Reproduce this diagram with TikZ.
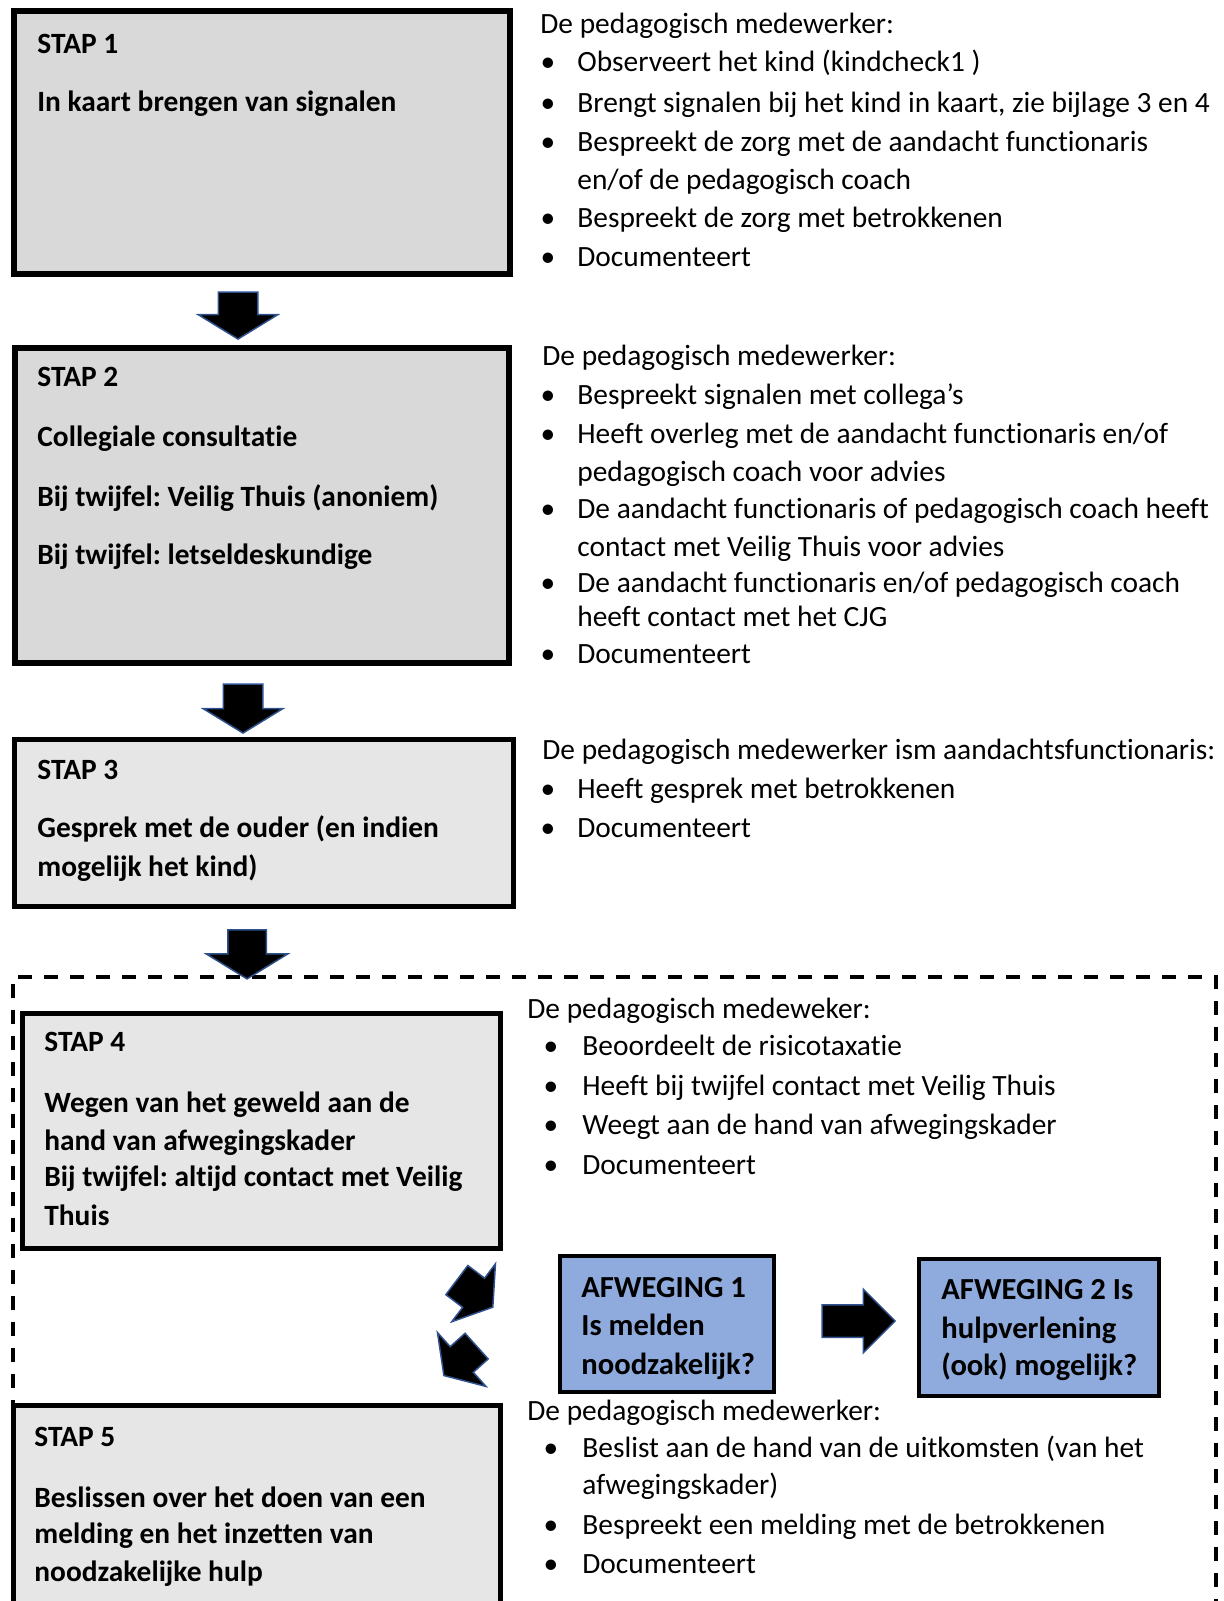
\documentclass[tikz,border=0pt]{standalone}
\usepackage{fontspec}
\setmainfont{Carlito}[Ligatures=NoCommon]
\usetikzlibrary{shapes.arrows}
\definecolor{stapgrey}{HTML}{D9D9D9}
\definecolor{staplight}{HTML}{E7E6E6}
\definecolor{afwblue}{HTML}{8FAADC}
\definecolor{pijlrand}{HTML}{2F528F}
\frenchspacing

\begin{document}
\begin{tikzpicture}[x=0.5pt,y=-0.5pt]
            \tikzstyle{stap box}=[draw,line width=3pt,fill=stapgrey,inner sep=0,outer sep=0];
            \tikzstyle{light box}=[stap box,line width=2.5pt,fill=staplight];
            \tikzstyle{afw box}=[draw,line width=2pt,fill=afwblue,inner sep=0,outer sep=0];
            \tikzstyle{pijl}=[single arrow,draw=pijlrand,fill=black,line width=0.75pt,inner xsep=0,outer sep=0];
            \tikzstyle{kop}=[anchor=mid west,inner sep=0,font=\fontsize{14.7}{17}\selectfont\bfseries];
            \tikzstyle{afw}=[anchor=mid west,inner sep=0,font=\fontsize{15.3}{18}\selectfont\bfseries];
            \tikzstyle{tekst}=[anchor=mid west,inner sep=0,font=\fontsize{14.7}{17}\selectfont];
            \tikzstyle{bol}=[anchor=mid,inner sep=0,font=\fontsize{14.7}{17}\selectfont];
            \useasboundingbox (0,0) rectangle (1223,1601);
            \clip (0,0) rectangle (1223,1601);
            % dashed frame round stap 4 and 5
            \draw[line width=1.75pt,dash pattern=on 7pt off 6pt] (13,1700) |- (1216,977) -- (1216,1700);
            % boxes
            \node[stap box,minimum width=248pt,minimum height=131.5pt] (stap1) at (262,142.5) {};
            \node[stap box,minimum width=247pt,minimum height=157.5pt] (stap2) at (262,505.5) {};
            \node[light box,minimum width=249.5pt,minimum height=83.5pt] (stap3) at (264,823) {};
            \node[light box,minimum width=239pt,minimum height=117.5pt] (stap4) at (261.5,1131) {};
            \node[light box,minimum width=243.5pt,minimum height=127.25pt] (stap5) at (257,1532.75) {};
            \node[afw box,minimum width=107pt,minimum height=68pt] (afw1) at (667,1324) {};
            \node[afw box,minimum width=120pt,minimum height=68.5pt] (afw2) at (1039,1327.5) {};
            % arrows
            \node[pijl,minimum height=23.5pt,minimum width=39pt,inner ysep=9.5pt,single arrow head extend=10pt,single arrow tip angle=117,rotate=-90] (p12) at (238,309.5) {};
            \node[pijl,minimum height=24.5pt,minimum width=39pt,inner ysep=9.5pt,single arrow head extend=10pt,single arrow tip angle=117,rotate=-90] (p23) at (243,702.5) {};
            \node[pijl,minimum height=24.5pt,minimum width=40pt,inner ysep=9.25pt,single arrow head extend=10.75pt,single arrow tip angle=117,rotate=-90] (p34) at (247,948.5) {};
            \node[pijl,minimum height=22.5pt,minimum width=35.5pt,inner ysep=8.75pt,single arrow head extend=9pt,single arrow tip angle=113,rotate=-37] (p4a) at (470,1290) {};
            \node[pijl,minimum height=22pt,minimum width=35.5pt,inner ysep=8.25pt,single arrow head extend=9.5pt,single arrow tip angle=113,rotate=-138] (pa5) at (464.5,1357) {};
            \node[pijl,minimum height=36.5pt,minimum width=31pt,inner ysep=7.75pt,single arrow head extend=7.75pt,single arrow tip angle=90] (pa12) at (850.5,1321) {};
            % texts in the boxes
            \node[kop] (k1a) at (37,49) {STAP 1};
            \node[kop] (k1b) at (37,107) {In kaart brengen van signalen};
            \node[kop] (k2a) at (37,382) {STAP 2};
            \node[kop] (k2b) at (37,442) {Collegiale consultatie};
            \node[kop] (k2c) at (37,502) {Bij twijfel: Veilig Thuis (anoniem)};
            \node[kop] (k2d) at (37,560) {Bij twijfel: letseldeskundige};
            \node[kop] (k3a) at (37,775) {STAP 3};
            \node[kop] (k3b) at (37,833) {Gesprek met de ouder (en indien};
            \node[kop] (k3c) at (37,872) {mogelijk het kind)};
            \node[kop] (k4a) at (44,1047) {STAP 4};
            \node[kop] (k4b) at (44,1108) {Wegen van het geweld aan de};
            \node[kop] (k4c) at (44,1146) {hand van afwegingskader};
            \node[kop] (k4d) at (44,1182) {Bij twijfel: altijd contact met Veilig};
            \node[kop] (k4e) at (44,1221) {Thuis};
            \node[kop] (k5a) at (34,1442) {STAP 5};
            \node[kop] (k5b) at (34,1503) {Beslissen over het doen van een};
            \node[kop] (k5c) at (34,1539) {melding en het inzetten van};
            \node[kop] (k5d) at (34,1577) {noodzakelijke hulp};
            \node[afw] (w1a) at (581,1293) {AFWEGING 1};
            \node[afw] (w1b) at (581,1331) {Is melden};
            \node[afw] (w1c) at (581,1370) {noodzakelijk?};
            \node[afw] (w2a) at (941,1295) {AFWEGING 2 Is};
            \node[afw] (w2b) at (941,1334) {hulpverlening};
            \node[afw] (w2c) at (941,1371) {(ook) mogelijk?};
            % stap 1
            \node[tekst] (m1) at (540,29) {De pedagogisch medewerker:};
            \foreach \y in {67,108,147,223,262} \node[bol] (b1-\y) at (548,\y) {\textbullet};
            \node[tekst] (m1a) at (577,67) {Observeert het kind (kindcheck1 )};
            \node[tekst] (m1b) at (577,108) {Brengt signalen bij het kind in kaart, zie bijlage 3 en 4};
            \node[tekst] (m1c) at (577,147) {Bespreekt de zorg met de aandacht functionaris};
            \node[tekst] (m1d) at (577,185) {en/of de pedagogisch coach};
            \node[tekst] (m1e) at (577,223) {Bespreekt de zorg met betrokkenen};
            \node[tekst] (m1f) at (577,262) {Documenteert};
            % stap 2
            \node[tekst] (m2) at (542,361) {De pedagogisch medewerker:};
            \foreach \y in {400,439,514,588,659} \node[bol] (b2-\y) at (548,\y) {\textbullet};
            \node[tekst] (m2a) at (577,400) {Bespreekt signalen met collega’s};
            \node[tekst] (m2b) at (577,439) {Heeft overleg met de aandacht functionaris en/of};
            \node[tekst] (m2c) at (577,477) {pedagogisch coach voor advies};
            \node[tekst] (m2d) at (577,514) {De aandacht functionaris of pedagogisch coach heeft};
            \node[tekst] (m2e) at (577,552) {contact met Veilig Thuis voor advies};
            \node[tekst] (m2f) at (577,588) {De aandacht functionaris en/of pedagogisch coach};
            \node[tekst] (m2g) at (577,622) {heeft contact met het CJG};
            \node[tekst] (m2h) at (577,659) {Documenteert};
            % stap 3
            \node[tekst] (m3) at (542,755) {De pedagogisch medewerker ism aandachtsfunctionaris:};
            \foreach \y in {794,833} \node[bol] (b3-\y) at (548,\y) {\textbullet};
            \node[tekst] (m3a) at (577,794) {Heeft gesprek met betrokkenen};
            \node[tekst] (m3b) at (577,833) {Documenteert};
            % stap 4
            \node[tekst] (m4) at (527,1014) {De pedagogisch medeweker:};
            \foreach \y in {1051,1091,1130,1170} \node[bol] (b4-\y) at (551,\y) {\textbullet};
            \node[tekst] (m4a) at (582,1051) {Beoordeelt de risicotaxatie};
            \node[tekst] (m4b) at (582,1091) {Heeft bij twijfel contact met Veilig Thuis};
            \node[tekst] (m4c) at (582,1130) {Weegt aan de hand van afwegingskader};
            \node[tekst] (m4d) at (582,1170) {Documenteert};
            % stap 5
            \node[tekst] (m5) at (527,1416) {De pedagogisch medewerker:};
            \foreach \y in {1453,1530,1569} \node[bol] (b5-\y) at (551,\y) {\textbullet};
            \node[tekst] (m5a) at (582,1453) {Beslist aan de hand van de uitkomsten (van het};
            \node[tekst] (m5b) at (582,1490) {afwegingskader)};
            \node[tekst] (m5c) at (582,1530) {Bespreekt een melding met de betrokkenen};
            \node[tekst] (m5d) at (582,1569) {Documenteert};
\end{tikzpicture}
\end{document}
